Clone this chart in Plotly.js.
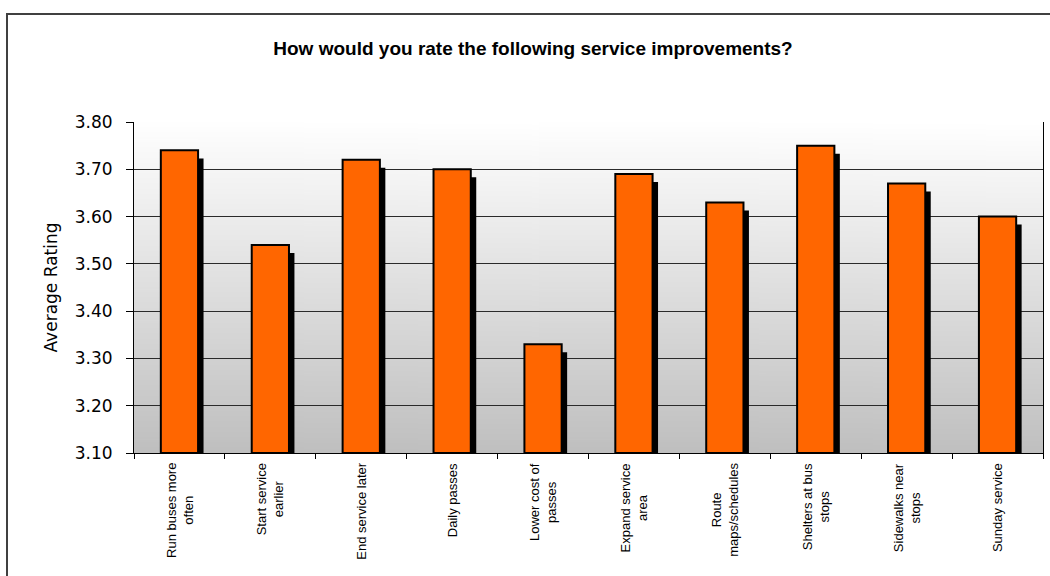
<!DOCTYPE html>
<html>
<head>
<meta charset="utf-8">
<script src="https://cdn.plot.ly/plotly-3.0.1.min.js"></script>
<style>html,body{margin:0;padding:0;background:#fff;}#chart{width:1050px;height:576px;}</style>
</head>
<body>
<div id="chart"></div>
<script>
var categories = ["Run buses more<br>often", "Start service<br>earlier", "End service later", "Daily passes", "Lower cost of<br>passes", "Expand service<br>area", "Route<br>maps/schedules", "Shelters at bus<br>stops", "Sidewalks near<br>stops", "Sunday service"];
var ratings = [3.74, 3.54, 3.72, 3.70, 3.33, 3.69, 3.63, 3.75, 3.67, 3.60];
var yTickVals = [3.10, 3.20, 3.30, 3.40, 3.50, 3.60, 3.70, 3.80];
var yTickText = ["3.10", "3.20", "3.30", "3.40", "3.50", "3.60", "3.70", "3.80"];
var chartTitle = "How would you rate the following service improvements?";
var yTitle = "Average Rating";

// visual-only shadow drop (in axis units) for the 3D-style shadow
var SHADOW_DROP = 0.017;
var AXIS_MIN = 3.1;

var xIdx = categories.map(function (c, i) { return i; });

// gradient plot background
var cv = document.createElement('canvas');
cv.width = 8; cv.height = 256;
var ctx = cv.getContext('2d');
var g = ctx.createLinearGradient(0, 0, 0, 256);
g.addColorStop(0, '#ffffff');
g.addColorStop(1, '#bfbfbf');
ctx.fillStyle = g;
ctx.fillRect(0, 0, 8, 256);
var bgUrl = cv.toDataURL('image/png');

var BW = 0.41;
var shadow = {
  type: 'bar',
  x: xIdx,
  y: ratings.map(function (v) { return v - SHADOW_DROP - AXIS_MIN; }),
  base: AXIS_MIN,
  width: BW,
  offset: -BW / 2 + 0.06,
  marker: { color: '#000000', line: { width: 0 } },
  hoverinfo: 'skip',
  showlegend: false
};
var bars = {
  type: 'bar',
  x: xIdx,
  y: ratings.map(function (v) { return v - AXIS_MIN; }),
  base: AXIS_MIN,
  width: BW,
  offset: -BW / 2,
  marker: { color: '#ff6600', line: { color: '#000000', width: 2 } },
  showlegend: false
};

var annotations = categories.map(function (c, i) {
  return {
    x: i, xref: 'x', y: 0, yref: 'paper',
    text: c, showarrow: false, textangle: -90,
    xanchor: 'center', yanchor: 'top', align: 'center',
    yshift: -8,
    font: { family: 'Liberation Sans, Arial, sans-serif', size: 13, color: '#000' }
  };
});

var layout = {
  width: 1050, height: 576,
  margin: { l: 134, r: 7, t: 122, b: 123 },
  paper_bgcolor: '#ffffff',
  plot_bgcolor: 'rgba(0,0,0,0)',
  barmode: 'overlay',
  showlegend: false,
  title: {
    text: chartTitle,
    x: 533 / 1050, xref: 'container', xanchor: 'center',
    y: 1 - 48 / 576, yref: 'container', yanchor: 'middle',
    font: { family: 'Liberation Sans, Arial, sans-serif', size: 19, color: '#000', weight: 'bold' }
  },
  xaxis: {
    type: 'linear',
    range: [-0.5, categories.length - 0.5],
    tickvals: xIdx.map(function (i) { return i - 0.5; }).concat([categories.length - 0.5]),
    showticklabels: false,
    ticks: 'outside', ticklen: 5, tickcolor: '#000', tickwidth: 1,
    showline: true, linecolor: '#000', linewidth: 1,
    showgrid: false, zeroline: false, fixedrange: true
  },
  yaxis: {
    range: [3.1, 3.8],
    tickvals: yTickVals, ticktext: yTickText,
    ticks: 'outside', ticklen: 7, tickcolor: '#000', tickwidth: 1,
    ticklabelstandoff: 10,
    showline: true, linecolor: '#000', linewidth: 1, mirror: true,
    showgrid: true, gridcolor: '#2a2a2a', gridwidth: 1,
    zeroline: false,
    tickfont: { family: 'DejaVu Sans, sans-serif', size: 17, color: '#000' },
    title: { text: yTitle, standoff: 12, font: { family: 'DejaVu Sans, sans-serif', size: 17, color: '#000' } },
    fixedrange: true
  },
  images: [{
    source: bgUrl, xref: 'paper', yref: 'paper', x: 0, y: 1, sizex: 1, sizey: 1,
    sizing: 'stretch', xanchor: 'left', yanchor: 'top', layer: 'below'
  }],
  shapes: [{
    type: 'rect', xref: 'paper', yref: 'paper',
    x0: (7 - 134) / 909, x1: 1.03, y0: -0.4, y1: (453 - 14) / 331,
    line: { color: '#404040', width: 2 }, fillcolor: 'rgba(0,0,0,0)', layer: 'below'
  }],
  annotations: annotations
};

Plotly.newPlot('chart', [shadow, bars], layout, { displayModeBar: false, staticPlot: true });
</script>
</body>
</html>
